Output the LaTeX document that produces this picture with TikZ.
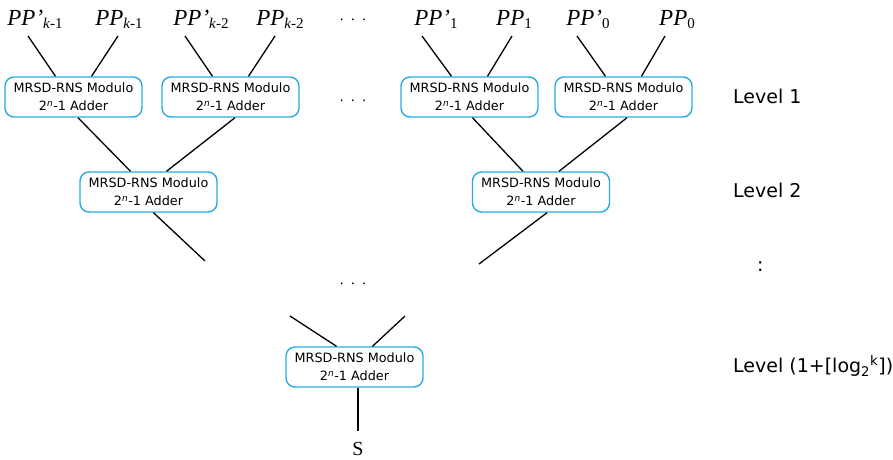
\documentclass[tikz,border=0pt]{standalone}
\usepackage{fontspec}
\usepackage{tikz}
\usetikzlibrary{positioning,calc}
\setmainfont{Liberation Serif}
\newfontfamily\boxfont{DejaVu Sans}
\definecolor{boxblue}{HTML}{29ABE2}
\newcommand{\ppl}[2]{\textit{#1}\raisebox{-0.3ex}{\fontsize{15}{15}\selectfont #2}}
\tikzset{
  adder/.style={draw=boxblue, line width=1.4pt, rounded corners=9pt, minimum width=137pt, minimum height=40pt, inner sep=0pt, align=center, font=\boxfont\fontsize{12.8}{18}\selectfont},
  pp/.style   ={anchor=base, inner sep=0pt, font=\fontsize{23}{23}\selectfont},
  lvl/.style  ={anchor=west, inner sep=0pt, font=\boxfont\fontsize{19}{22}\selectfont},
  wire/.style ={line width=1.3pt, black},
  dots/.style ={inner sep=0pt, font=\fontsize{15}{15}\selectfont},
}
\newcommand{\addtxt}{MRSD-RNS Modulo\\2\textsuperscript{\textit{n}}-1 Adder}

\begin{document}
\begin{tikzpicture}[x=1pt, y=-1pt]
        \useasboundingbox (0,0) rectangle (893,459);
        % inputs
        \node[pp] (pa1) at (35,25)  {\ppl{PP’}{\textit{k}-1}};
        \node[pp] (pb1) at (119,25) {\ppl{PP}{\textit{k}-1}};
        \node[pp] (pa2) at (201,25) {\ppl{PP’}{\textit{k}-2}};
        \node[pp] (pb2) at (280,25) {\ppl{PP}{\textit{k}-2}};
        \node[dots] (dt1) at (353,20) {.\ \ .\ \ .};
        \node[pp] (pa3) at (436,25) {\ppl{PP’}{1}};
        \node[pp] (pb3) at (514,25) {\ppl{PP}{1}};
        \node[pp] (pa4) at (588,25) {\ppl{PP’}{0}};
        \node[pp] (pb4) at (677,25) {\ppl{PP}{0}};
        % level 1
        \node[adder] (a1) at (73.5,97)  {\addtxt};
        \node[adder] (a2) at (230.5,97) {\addtxt};
        \node[dots]  (dt2) at (353,101) {.\ \ .\ \ .};
        \node[adder] (a3) at (469.5,97) {\addtxt};
        \node[adder] (a4) at (623.5,97) {\addtxt};
        % level 2
        \node[adder] (b1) at (148.5,192) {\addtxt};
        \node[adder] (b2) at (541,192)   {\addtxt};
        \coordinate (e1) at (205,261);
        \coordinate (e2) at (479,264);
        \node[dots]  (dt3) at (353,284) {.\ \ .\ \ .};
        % last level
        \coordinate (f1) at (290,316);
        \coordinate (f2) at (405,316);
        \node[adder] (c1) at (354.5,367) {\addtxt};
        \node[pp, font=\fontsize{20}{20}\selectfont] (s) at (358,455) {S};
        % levels
        \node[lvl] (lv1) at (733,96)  {Level 1};
        \node[lvl] (lv2) at (733,190) {Level 2};
        \node[lvl] (lv3) at (757,267) {:};
        \node[lvl] (lv4) at (733,366) {Level (1+[log\textsubscript{2}\textsuperscript{k}])};
        % wires
        \draw[wire] ([xshift=-7pt,yshift=-11pt]pa1.base) -- ([xshift=-18pt]a1.north);
        \draw[wire] ([xshift=-1pt,yshift=-11pt]pb1.base) -- ([xshift=18pt]a1.north);
        \draw[wire] ([xshift=-16pt,yshift=-11pt]pa2.base) -- ([xshift=-18pt]a2.north);
        \draw[wire] ([xshift=-5pt,yshift=-11pt]pb2.base) -- ([xshift=18pt]a2.north);
        \draw[wire] ([xshift=-14pt,yshift=-11pt]pa3.base) -- ([xshift=-18pt]a3.north);
        \draw[wire] ([xshift=-2pt,yshift=-11pt]pb3.base) -- ([xshift=18pt]a3.north);
        \draw[wire] ([xshift=-11pt,yshift=-11pt]pa4.base) -- ([xshift=-18pt]a4.north);
        \draw[wire] ([xshift=-12pt,yshift=-11pt]pb4.base) -- ([xshift=18pt]a4.north);
        \draw[wire] ([xshift=4.5pt]a1.south) -- ([xshift=-18pt]b1.north);
        \draw[wire] ([xshift=4.5pt]a2.south) -- ([xshift=18pt]b1.north);
        \draw[wire] ([xshift=3pt]a3.south) -- ([xshift=-18pt]b2.north);
        \draw[wire] ([xshift=3.5pt]a4.south) -- ([xshift=18pt]b2.north);
        \draw[wire] ([xshift=5pt]b1.south) -- (e1);
        \draw[wire] ([xshift=6pt]b2.south) -- (e2);
        \draw[wire] (f1) -- ([xshift=-18pt]c1.north);
        \draw[wire] (f2) -- ([xshift=18pt]c1.north);
        \draw[line width=2.4pt] ([xshift=3.5pt]c1.south) -- ([yshift=11pt]s.north);
      \end{tikzpicture}
\end{document}
